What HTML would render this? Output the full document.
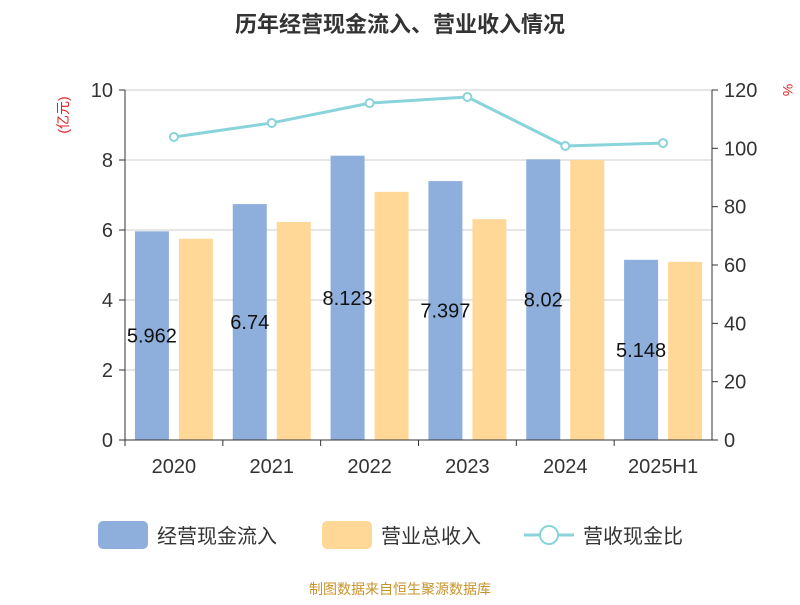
<!DOCTYPE html>
<html><head><meta charset="utf-8"><style>
body{margin:0;background:#fff;font-family:"Liberation Sans","Noto Sans CJK SC",sans-serif;}
svg text{font-family:"Liberation Sans","Noto Sans CJK SC",sans-serif;}
</style></head><body>
<svg id="c" width="800" height="600" xmlns="http://www.w3.org/2000/svg">
<text x="400" y="32" text-anchor="middle" font-size="22" font-weight="bold" fill="#333">历年经营现金流入、营业收入情况</text>
<text x="0" y="0" transform="translate(68,115) rotate(-90)" text-anchor="middle" font-size="14" fill="#e02020">(亿元)</text>
<text x="0" y="0" transform="translate(783,90) rotate(90)" text-anchor="middle" font-size="14" fill="#e02020">%</text>
<g id="grid"></g><g id="bars"></g><g id="line"></g><g id="axes"></g>
<g>
<rect x="98" y="521" width="50" height="28" rx="5" fill="#8eaedb"/>
<text x="157" y="543" font-size="20" fill="#333">经营现金流入</text>
<rect x="322" y="521" width="50" height="28" rx="5" fill="#ffd898"/>
<text x="381" y="543" font-size="20" fill="#333">营业总收入</text>
<line x1="524" y1="535" x2="574" y2="535" stroke="#88d4da" stroke-width="3"/>
<circle cx="549" cy="535" r="9" fill="#fff" stroke="#88d4da" stroke-width="2"/>
<text x="583" y="543" font-size="20" fill="#333">营收现金比</text>
</g>
<text x="400" y="594" text-anchor="middle" font-size="14" fill="#c8922a">制图数据来自恒生聚源数据库</text>
</svg>
<script>
const categories=["2020","2021","2022","2023","2024","2025H1"];
const cashInflow=[5.962,6.74,8.123,7.397,8.02,5.148];
const revenue=[5.75,6.23,7.09,6.31,8.0,5.09];
const ratio=[103.9,108.7,115.5,117.6,100.8,101.8];
const leftTicks=[0,2,4,6,8,10];
const rightTicks=[0,20,40,60,80,100,120];
const NS="http://www.w3.org/2000/svg";
const X0=125,X1=712,Y0=440,Y1=90;
const band=(X1-X0)/categories.length;
const yL=v=>Y0-(v/10)*(Y0-Y1);
const yR=v=>Y0-(v/120)*(Y0-Y1);
const xC=i=>X0+band*(i+0.5);
function mk(t,a,p){const e=document.createElementNS(NS,t);for(const k in a)e.setAttribute(k,a[k]);document.getElementById(p).appendChild(e);return e;}
leftTicks.forEach(v=>{
 const l=mk('line',{x1:X0,x2:X1,y1:yL(v),y2:yL(v),stroke:'#ccc','stroke-width':1},'grid');
 
 
 const t=mk('text',{x:X0-12,y:yL(v)+7,'text-anchor':'end','font-size':20,fill:'#333'},'axes');t.textContent=v;
 
 
});
rightTicks.forEach(v=>{
 const t=mk('text',{x:X1+12,y:yR(v)+7,'font-size':20,fill:'#333'},'axes');t.textContent=v;
 
 
 const k=mk('line',{x1:X1,x2:X1+6,y1:yR(v),y2:yR(v),stroke:'#333'},'axes');
 
 
});
let a=mk('line',{x1:X0,x2:X0,y1:Y1,y2:Y0,stroke:'#333'},'axes');


a=mk('line',{x1:X1,x2:X1,y1:Y1,y2:Y0,stroke:'#333'},'axes');


a=mk('line',{x1:X0,x2:X1,y1:Y0,y2:Y0,stroke:'#333'},'axes');


leftTicks.forEach(v=>{const k=mk('line',{x1:X0-6,x2:X0,y1:yL(v),y2:yL(v),stroke:'#333'},'axes');
 
 });
categories.forEach((c,i)=>{
 const x=xC(i);
 const b=mk('rect',{x:x-39,y:yL(cashInflow[i]),width:34,height:Y0-yL(cashInflow[i]),fill:'#8eaedb'},'bars');
 
 
 const r=mk('rect',{x:x+5,y:yL(revenue[i]),width:34,height:Y0-yL(revenue[i]),fill:'#ffd898'},'bars');
 
 
 const t=mk('text',{x:x-22,y:(yL(cashInflow[i])+Y0)/2+7,'text-anchor':'middle','font-size':20,fill:'#111'},'bars');t.textContent=cashInflow[i];
 
 
 const ct=mk('text',{x:x,y:473,'text-anchor':'middle','font-size':20,fill:'#333'},'axes');ct.textContent=c;
 
 
 const tk=mk('line',{x1:X0+band*i,x2:X0+band*i,y1:Y0,y2:Y0+6,stroke:'#333'},'axes');
 
 
});
const pl=mk('polyline',{points:ratio.map((v,i)=>xC(i)+','+yR(v)).join(' '),fill:'none',stroke:'#88d4da','stroke-width':3},'line');


ratio.forEach((v,i)=>{const p=mk('circle',{cx:xC(i),cy:yR(v),r:4,fill:'#fff',stroke:'#88d4da','stroke-width':2},'line');
 
 });
</script>
</body></html>
